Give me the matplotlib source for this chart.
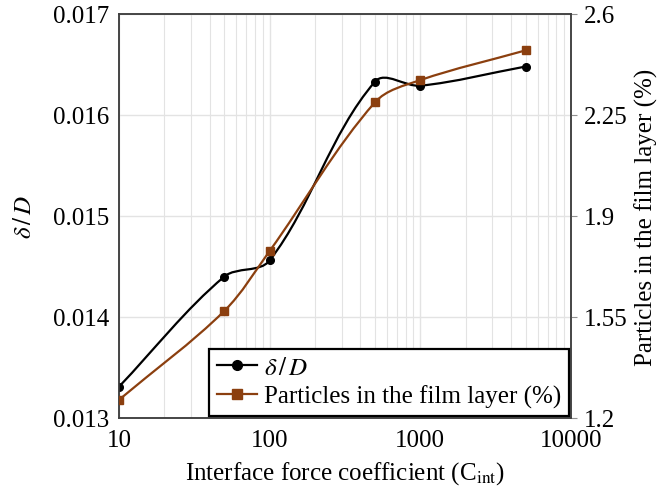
import numpy as np
import matplotlib
matplotlib.use('Agg')
import matplotlib.pyplot as plt
from matplotlib.path import Path
from matplotlib.patches import PathPatch
from matplotlib.lines import Line2D

plt.rcParams['font.family'] = ['Liberation Serif', 'DejaVu Serif']
plt.rcParams['mathtext.fontset'] = 'stix'
plt.rcParams['font.size'] = 18

# data
cint = [10, 50, 100, 500, 1000, 5000]
delta_d = [0.01331, 0.01440, 0.01456, 0.01633, 0.01629, 0.01648]
film_pct = [1.263, 1.571, 1.779, 2.294, 2.371, 2.474]

x_ticks = [10, 100, 1000, 10000]
x_ticklabels = ['10', '100', '1000', '10000']
left_ticks = [0.013, 0.014, 0.015, 0.016, 0.017]
left_ticklabels = ['0.013', '0.014', '0.015', '0.016', '0.017']
right_ticks = [1.2, 1.55, 1.9, 2.25, 2.6]
right_ticklabels = ['1.2', '1.55', '1.9', '2.25', '2.6']

black = '#000000'
brown = '#8b3f0f'
grid_c = '#e3e3e3'
spine_c = '#404040'


def smooth_path(a, xs, ys, k=1 / 3):
    # excel-like smoothed line: bezier through the points, tangents built in screen space
    pts = a.transData.transform(np.column_stack([xs, ys]))
    n = len(pts)
    verts = [pts[0]]
    codes = [Path.MOVETO]

    def tangent(i):
        p = pts[min(i + 1, n - 1)] - pts[max(i - 1, 0)]
        return p / np.hypot(*p)

    for i in range(n - 1):
        d = np.hypot(*(pts[i + 1] - pts[i]))
        c1 = pts[i] + tangent(i) * d * k
        c2 = pts[i + 1] - tangent(i + 1) * d * k
        verts += [c1, c2, pts[i + 1]]
        codes += [Path.CURVE4] * 3
    verts = a.transData.inverted().transform(np.array(verts))
    return Path(verts, codes)


fig = plt.figure(figsize=(6.59, 4.89), dpi=100)
ax = fig.add_axes([119 / 659, 1 - 419 / 489, 452 / 659, 404 / 489])
ax2 = ax.twinx()

ax.set_xscale('log')
ax.set_xlim(10, 10000)
ax.set_ylim(0.013, 0.017)
ax2.set_ylim(1.2, 2.6)

ax.grid(which='major', axis='both', color=grid_c, lw=1)
ax.grid(which='minor', axis='x', color=grid_c, lw=0.8)
ax.set_axisbelow(True)

ax.add_patch(PathPatch(smooth_path(ax, cint, delta_d), fill=False, ec=black, lw=1.6, zorder=3))
ax.plot(cint, delta_d, ls='none', marker='o', ms=5.5, color=black, zorder=4)

ax2.add_patch(PathPatch(smooth_path(ax2, cint, film_pct), fill=False, ec=brown, lw=1.6, zorder=3))
ax2.plot(cint, film_pct, ls='none', marker='s', ms=6, color=brown, zorder=4)

ax.set_xticks(x_ticks)
ax.set_xticklabels(x_ticklabels)
ax.xaxis.set_minor_formatter(plt.NullFormatter())
ax.set_yticks(left_ticks)
ax.set_yticklabels(left_ticklabels)
ax2.set_yticks(right_ticks)
ax2.set_yticklabels(right_ticklabels)

ax.tick_params(axis='x', which='both', length=0, pad=8)
ax.tick_params(axis='y', length=0, pad=7)
ax2.tick_params(axis='y', length=4, width=0.8, color='#909090', pad=5)

for a in (ax, ax2):
    for s in a.spines.values():
        s.set_color(spine_c)
        s.set_linewidth(1.1)

ax.set_xlabel(r'Interface force coefficient (C$_{\rm int}$)', labelpad=6)
ax.set_ylabel(r'$\delta\,/\,D$', labelpad=12)
ax2.set_ylabel('Particles in the film layer (%)', labelpad=5)

handles = [
    Line2D([], [], color=black, lw=1.6, marker='o', ms=7),
    Line2D([], [], color=brown, lw=1.6, marker='s', ms=7),
]
leg = ax2.legend(handles, [r'$\delta\,/\,D$', 'Particles in the film layer (%)'],
                 loc='lower right', bbox_to_anchor=(0.996, 0.005), borderaxespad=0,
                 fancybox=False, framealpha=1, edgecolor='black',
                 handlelength=1.6, handletextpad=0.3, labelspacing=0.25,
                 borderpad=0.3)
leg.get_frame().set_linewidth(1.6)

fig.savefig('out.png', dpi=100)
